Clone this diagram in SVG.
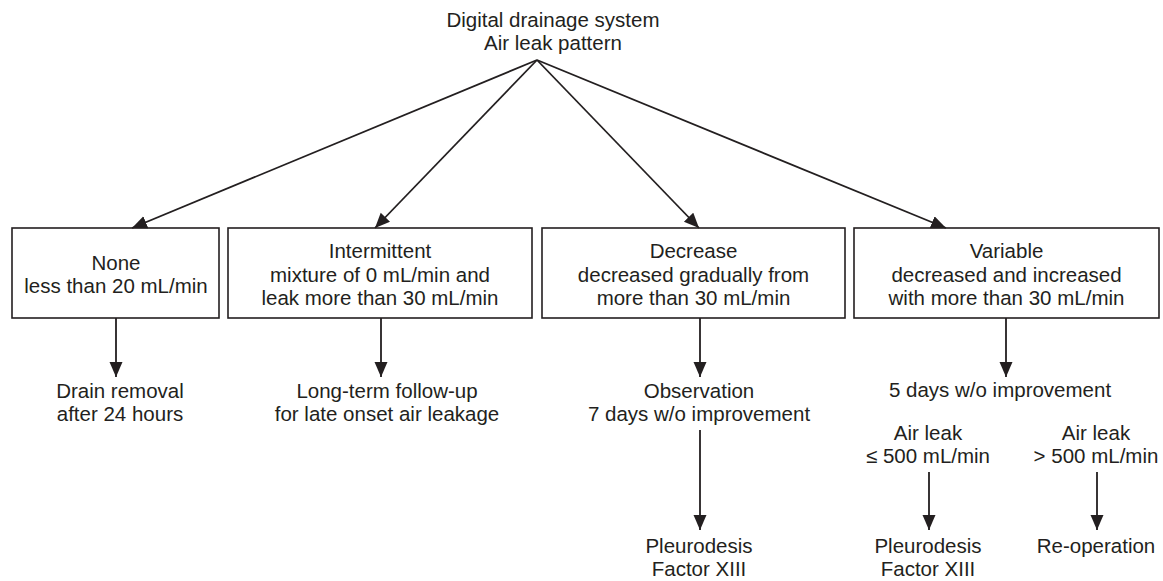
<svg xmlns="http://www.w3.org/2000/svg" width="1163" height="581" viewBox="0 0 1163 581">
<style>
text{font-family:"Liberation Sans",Arial,Helvetica,sans-serif;font-size:20.5px;fill:#231f20;text-anchor:middle}
.box{fill:#fff;stroke:#231f20;stroke-width:1.6}
.con{stroke:#231f20;stroke-width:1.8;fill:none;marker-end:url(#ah)}
</style>
<defs>
<marker id="ah" markerUnits="userSpaceOnUse" markerWidth="16" markerHeight="14" refX="15" refY="6.5" orient="auto">
<path d="M0,0 L15,6.5 L0,13 z" fill="#231f20"/>
</marker>
</defs>
<rect width="1163" height="581" fill="#fff"/>
<g id="root">
<text x="553" y="27">Digital drainage system</text>
<text x="553" y="50">Air leak pattern</text>
</g>
<g id="none">
<rect class="box" x="12" y="228" width="207" height="90"/>
<text x="116" y="270">None</text>
<text x="116" y="293">less than 20 mL/min</text>
</g>
<g id="intermittent">
<rect class="box" x="228" y="228" width="304" height="90"/>
<text x="380" y="258">Intermittent</text>
<text x="380" y="282">mixture of 0 mL/min and</text>
<text x="380" y="305">leak more than 30 mL/min</text>
</g>
<g id="decrease">
<rect class="box" x="542" y="228" width="303" height="90"/>
<text x="693.5" y="258">Decrease</text>
<text x="693.5" y="282">decreased gradually from</text>
<text x="693.5" y="305">more than 30 mL/min</text>
</g>
<g id="variable">
<rect class="box" x="854" y="228" width="305" height="90"/>
<text x="1006.5" y="258">Variable</text>
<text x="1006.5" y="282">decreased and increased</text>
<text x="1006.5" y="305">with more than 30 mL/min</text>
</g>
<g id="drain">
<text x="120" y="398">Drain removal</text>
<text x="120" y="421">after 24 hours</text>
</g>
<g id="followup">
<text x="387" y="398">Long-term follow-up</text>
<text x="387" y="421">for late onset air leakage</text>
</g>
<g id="observation">
<text x="699" y="398">Observation</text>
<text x="699" y="421">7 days w/o improvement</text>
</g>
<g id="fivedays">
<text x="1000" y="397">5 days w/o improvement</text>
</g>
<g id="leak-low">
<text x="928" y="440">Air leak</text>
<text x="928" y="463">≤ 500 mL/min</text>
</g>
<g id="leak-high">
<text x="1096" y="440">Air leak</text>
<text x="1096" y="463">&gt; 500 mL/min</text>
</g>
<g id="pleuro1">
<text x="699" y="553">Pleurodesis</text>
<text x="699" y="576">Factor XIII</text>
</g>
<g id="pleuro2">
<text x="928" y="553">Pleurodesis</text>
<text x="928" y="576">Factor XIII</text>
</g>
<g id="reop">
<text x="1096" y="553">Re-operation</text>
</g>
<g id="connectors">
<line class="con" x1="537" y1="60" x2="132" y2="228"/>
<line class="con" x1="537" y1="60" x2="375" y2="228"/>
<line class="con" x1="537" y1="60" x2="699" y2="228"/>
<line class="con" x1="537" y1="60" x2="946" y2="228"/>
<line class="con" x1="116" y1="318" x2="116" y2="377"/>
<line class="con" x1="381" y1="318" x2="381" y2="377"/>
<line class="con" x1="700" y1="318" x2="700" y2="377"/>
<line class="con" x1="1006" y1="318" x2="1006" y2="377"/>
<line class="con" x1="700" y1="430" x2="700" y2="530"/>
<line class="con" x1="929" y1="472" x2="929" y2="530"/>
<line class="con" x1="1097" y1="472" x2="1097" y2="530"/>
</g>
</svg>
